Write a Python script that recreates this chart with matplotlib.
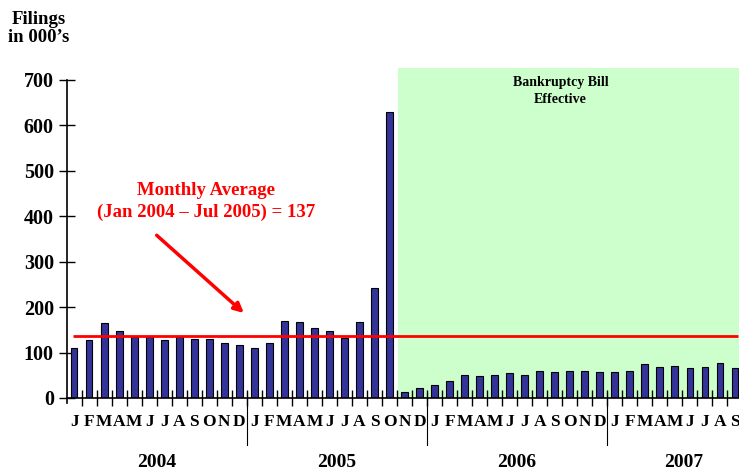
import matplotlib.pyplot as plt

# monthly bankruptcy filings, thousands (Jan 2004 - Sep 2007)
months = list("JFMAMJJASOND") * 3 + list("JFMAMJJAS")
years = ["2004", "2005", "2006", "2007"]
filings = [110, 128, 165, 148, 135, 135, 128, 135, 130, 130, 122, 117,
           110, 122, 169, 167, 153, 147, 132, 167, 241, 630, 14, 23,
           28, 37, 51, 48, 51, 55, 51, 59, 57, 60, 59, 57,
           57, 60, 75, 69, 71, 67, 69, 78, 67]
average = 137
bill_start = 21.55
yticks = [0, 100, 200, 300, 400, 500, 600, 700]

plt.rcParams['font.family'] = ['Liberation Serif', 'DejaVu Serif']
plt.rcParams['font.weight'] = 'bold'

fig = plt.figure(figsize=(7.39, 4.71), dpi=100)
ax = fig.add_axes([0.0907, 0.155, 0.9093, 0.7006])

x = list(range(len(filings)))
ax.axvspan(bill_start, 50, color='#ccffcc', zorder=0, lw=0)
ax.bar(x, filings, width=0.45, color='#333399', edgecolor='black', linewidth=0.8, zorder=2)
ax.hlines(average, -0.1, 44.2, color='red', lw=2, zorder=3)

ax.set_xlim(-0.47, 44.27)
ax.set_ylim(0, 726)
for s in ['top', 'right']:
    ax.spines[s].set_visible(False)
ax.spines['left'].set_bounds(-12, 700)
ax.spines['left'].set_linewidth(1.2)
ax.spines['bottom'].set_linewidth(1.2)

ax.set_yticks(yticks)
ax.set_yticklabels([str(v) for v in yticks], fontsize=14.5, fontweight='bold')
ax.tick_params(axis='y', direction='inout', length=11, width=1, pad=4)
ax.set_xticks([i + 0.5 for i in x[:-1]])
ax.set_xticklabels([])
ax.tick_params(axis='x', direction='inout', length=12, width=1)

# month letters and year labels
for i, m in enumerate(months):
    ax.text(i, -53, m, ha='center', va='center', fontsize=12.5,
            fontweight='bold')
for xc, yr in zip([5.5, 17.5, 29.5, 40.6], years):
    ax.text(xc, -141, yr, ha='center', va='center', fontsize=14,
            fontweight='bold')
for xd in [11.5, 23.5, 35.5]:
    ax.plot([xd, xd], [12, -103], color='black', lw=0.8, clip_on=False)

fig.text(0.053, 0.94, "Filings\nin 000\u2019s", ha='center', va='center',
         fontsize=13.5, fontweight='bold', linespacing=1.05)

ax.text(32.4, 675, "Bankruptcy Bill\nEffective", ha='center', va='center',
        fontsize=10, fontweight='bold', linespacing=1.4)

ax.text(8.8, 433, "Monthly Average\n(Jan 2004 \u2013 Jul 2005) = 137",
        ha='center', va='center', fontsize=13.5, fontweight='bold',
        color='red', linespacing=1.35)
ax.annotate("", xy=(11.3, 187), xytext=(5.5, 358),
            arrowprops=dict(arrowstyle='-|>', color='red', lw=2.5,
                            mutation_scale=14, shrinkA=0, shrinkB=0))

fig.savefig("out.png", dpi=100)
